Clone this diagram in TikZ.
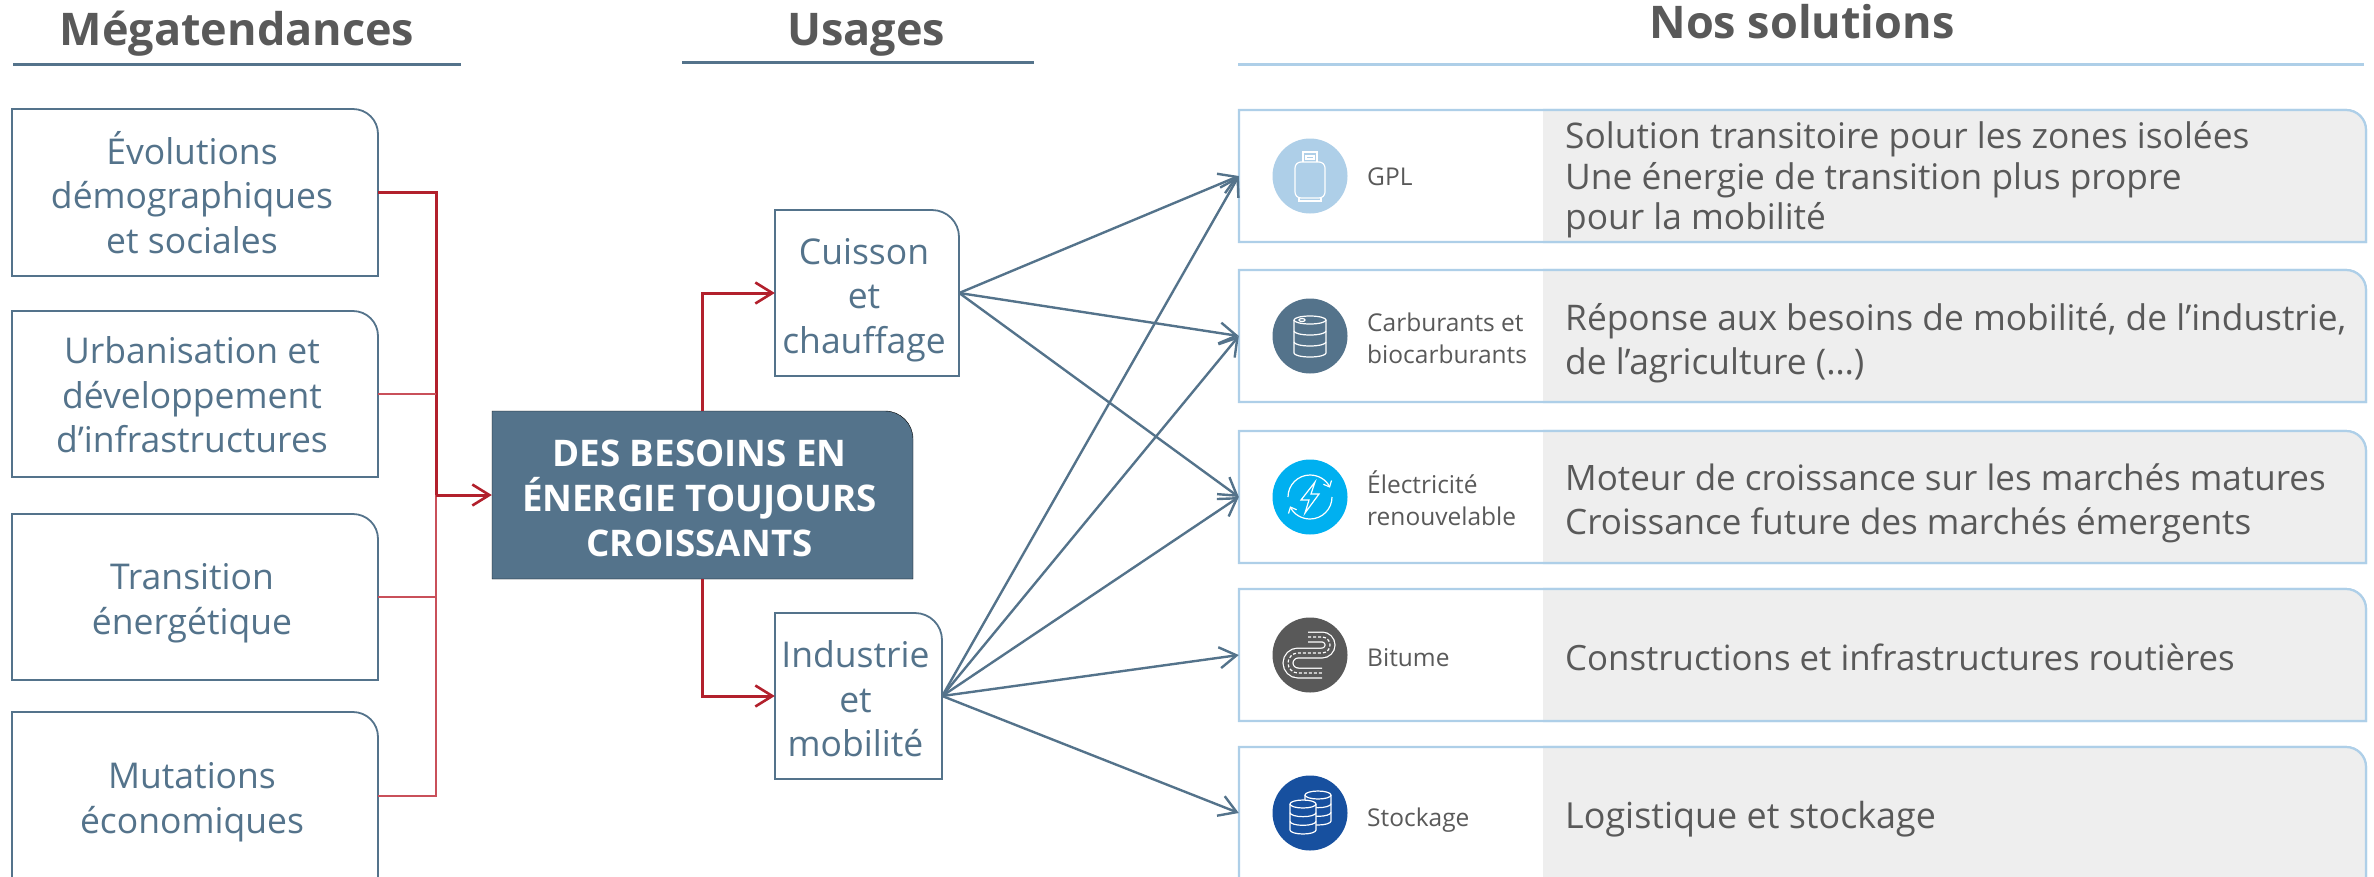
\documentclass[tikz,border=0pt]{standalone}
\usepackage{fontspec}
\setmainfont{Open Sans}
\usetikzlibrary{arrows.meta,calc}
\definecolor{steel}{HTML}{54738B}
\definecolor{sky}{HTML}{AECFE8}
\definecolor{paper}{HTML}{EEEEEE}
\definecolor{ink}{HTML}{595959}
\definecolor{crim}{HTML}{B2202C}
\definecolor{crimlt}{HTML}{C9505A}
\definecolor{ciel}{HTML}{00B0F0}
\definecolor{roi}{HTML}{17509F}
\newcommand{\fs}[2]{\fontsize{#1pt}{#2pt}\selectfont}
% name x1 y1 x2 y2 drawstyle radius textstyle text-dy ; text in \tabtext
\newcommand{\tabbox}[9]{%
  \draw[#6] (#2,#3) [rounded corners=#7pt] -- (#4,#3) [sharp corners] -- (#4,#5) -- (#2,#5) -- cycle;
  \node[inner sep=0,minimum width={(#4-#2)*1pt},minimum height={(#5-#3)*1pt}] (#1) at ({(#2+#4)/2},{(#3+#5)/2}) {};
  \node[#8] (#1t) at ({(#2+#4)/2-3},{(#3+#5)/2+#9}) {\tabtext};
}
% solution row: name y1 y2 ; icon colour ; label dy ; text dy ; (label in \rowlabel, text in \rowtext)
\newcommand{\solrow}[6]{%
  \draw[rowline,fill=white] (1239,#2) [rounded corners=20pt] -- (2366,#2) [sharp corners] -- (2366,#3) -- (1239,#3) -- cycle;
  \fill[paper] (1543,#2) [rounded corners=20pt] -- (2366,#2) [sharp corners] -- (2366,#3) -- (1543,#3) -- cycle;
  \draw[rowline] (1543,#2) [rounded corners=20pt] -- (2366,#2) [sharp corners] -- (2366,#3) -- (1543,#3);
  \node[inner sep=0,minimum width=1127pt,minimum height={(#3-#2)*1pt}] (#1) at (1802.5,{(#2+#3)/2}) {};
  \node[iconball,fill=#4] (#1i) at (1310,{(#2+#3)/2}) {};
  \node[sollabel] (#1l) at (1367,{(#2+#3)/2+#5}) {\rowlabel};
  \node[soltext] (#1t) at (1565,{(#2+#3)/2+#6}) {\rowtext};
}
\newcommand{\cyl}[5]{% x centre, ytop, ybottom, rx, fill
  \draw[iconline,fill=#5] (#1-#4,#2) -- (#1-#4,#3) arc[start angle=180,end angle=360,x radius=#4,y radius=4] -- (#1+#4,#2);
  \draw[iconline,fill=#5] (#1,#2) ellipse[x radius=#4,y radius=4];
  \draw[iconline] (#1-#4,{#2+(#3-#2)/3}) arc[start angle=180,end angle=360,x radius=#4,y radius=4];
  \draw[iconline] (#1-#4,{#2+2*(#3-#2)/3}) arc[start angle=180,end angle=360,x radius=#4,y radius=4];
}
\tikzset{
  x=1pt,y=-1pt,
  boxlabel/.style={inner sep=0,align=center,text=steel,font=\fs{35.5}{44.5}},
  centrelabel/.style={inner sep=0,align=center,text=white,font=\fs{36.7}{45}\bfseries},
  tabline/.style={draw=steel,line width=1.8pt,fill=white},
  rowline/.style={draw=sky,line width=2.2pt},
  iconball/.style={circle,inner sep=0,minimum size=75pt},
  iconline/.style={draw=white,line width=1.2pt},
  sollabel/.style={anchor=west,inner sep=0,align=left,text=ink,font=\fs{24.5}{32}},
  soltext/.style={anchor=west,inner sep=0,align=left,text=ink,font=\fs{\rowsize}{\rowskip}},
  head/.style={inner sep=0,text=ink,font=\fs{45}{50}\bfseries,anchor=base},
  hrule/.style={line width=3pt},
  bluearrow/.style={draw=steel,line width=2.4pt,-{Straight Barb[length=17pt,width=21pt,line width=2.4pt]}},
  redthick/.style={draw=crim,line width=3pt},
  redthin/.style={draw=crimlt,line width=1.6pt},
  redarrow/.style={draw=crim,line width=3pt,-{Straight Barb[length=17pt,width=21pt,line width=2.6pt]}},
}
\begin{document}
\begin{tikzpicture}
\useasboundingbox (0,0) rectangle (2374,876);
\clip (0,0) rectangle (2374,876);
% headings
\node[head] (h1) at (237,45) {Mégatendances};
\node[head] (h2) at (866,45) {Usages};
\node[head] (h3) at (1802,38) {Nos solutions};
\coordinate (r1a) at (13,64); \coordinate (r1b) at (461,64);
\coordinate (r2a) at (682,62); \coordinate (r2b) at (1034,62);
\coordinate (r3a) at (1238,64); \coordinate (r3b) at (2364,64);
\draw[hrule,steel] (r1a) -- (r1b);
\draw[hrule,steel] (r2a) -- (r2b);
\draw[hrule,sky] (r3a) -- (r3b);
% left boxes
\def\tabtext{Évolutions\\démographiques\\et sociales}
\tabbox{m1}{12}{109}{378}{276}{tabline}{25}{boxlabel}{0}
\def\tabtext{Urbanisation et\\développement\\d’infrastructures}
\tabbox{m2}{12}{311}{378}{477}{tabline}{25}{boxlabel}{1}
\def\tabtext{Transition\\énergétique}
\tabbox{m3}{12}{514}{378}{680}{tabline}{25}{boxlabel}{6}
\def\tabtext{Mutations\\économiques}
\tabbox{m4}{12}{712}{378}{880}{tabline}{25}{boxlabel}{6}
% usages
\def\tabtext{Cuisson\\et\\chauffage}
\tabbox{u1}{775}{210}{959}{376}{tabline}{27}{boxlabel}{7}
\def\tabtext{Industrie\\et\\mobilité}
\tabbox{u2}{775}{613}{942}{779}{tabline}{27}{boxlabel}{3}
% centre
\def\tabtext{DES BESOINS EN\\ÉNERGIE TOUJOURS\\CROISSANTS}
\tabbox{c}{492}{411}{913}{579}{fill=steel}{28}{centrelabel}{3}
% solutions
\def\rowlabel{GPL}\def\rowsize{35.3}\def\rowskip{40.5}
\def\rowtext{Solution transitoire pour les zones isolées\\Une énergie de transition plus propre\\pour la mobilité}
\solrow{s1}{110}{242}{sky}{1}{4}
\def\rowlabel{Carburants et\\biocarburants}\def\rowsize{35.3}\def\rowskip{44}
\def\rowtext{Réponse aux besoins de mobilité, de l’industrie,\\de l’agriculture (…)}
\solrow{s2}{270}{402}{steel}{2}{7}
\def\rowlabel{Électricité\\renouvelable}\def\rowsize{35}\def\rowskip{44}
\def\rowtext{Moteur de croissance sur les marchés matures\\Croissance future des marchés émergents}
\solrow{s3}{431}{563}{ciel}{1}{6}
\def\rowlabel{Bitume}\def\rowsize{34.8}\def\rowskip{44}
\def\rowtext{Constructions et infrastructures routières}
\solrow{s4}{589}{721}{ink}{3}{2}
\def\rowlabel{Stockage}\def\rowsize{35.9}\def\rowskip{44}
\def\rowtext{Logistique et stockage}
\solrow{s5}{747}{879}{roi}{7}{6}
% red connectors
\coordinate (bus) at (436,495);
\draw[redthick] (m1.east) -| (bus);
\draw[redthin] (m2.east) -- (m2.east -| bus);
\draw[redthin] (m3.east) -- (m3.east -| bus);
\draw[redthin] (m4.east) -| (bus);
\draw[redarrow] (bus) -- (c.west);
\coordinate (ct) at (702,411);
\coordinate (cb) at (702,579);
\draw[redarrow] (ct) |- (u1.west);
\draw[redarrow] (cb) |- (u2.west);
% blue connectors
\foreach \t in {s1,s2,s3}{\draw[bluearrow] (u1.east) -- (\t.west);}
\foreach \t in {s1,s2,s3,s4,s5}{\draw[bluearrow] (u2.east) -- (\t.west);}
% icons
\begin{scope}[shift={(s1i.center)},x=1pt,y=1pt]
  \draw[iconline,rounded corners=6pt] (-15,-22) rectangle (15,14);
  \draw[iconline] (-7,14) -- (-7,24) -- (7,24) -- (7,14);
  \draw[iconline] (-4,17) rectangle (4,20);
  \draw[iconline] (-11,-22) -- (-11,-25) -- (11,-25) -- (11,-22);
\end{scope}
\begin{scope}[shift={(s2i.center)},x=1pt,y=1pt]
  \cyl{0}{16}{-17}{16}{steel}
  \draw[iconline] (-8,16) ellipse[x radius=3,y radius=1.5];
\end{scope}
\begin{scope}[shift={(s3i.center)},x=1pt,y=1pt]
  \draw[iconline,-{Straight Barb[length=5pt,width=9pt]}] (-22,0) arc[start angle=180,end angle=25,radius=22];
  \draw[iconline,-{Straight Barb[length=5pt,width=9pt]}] (22,0) arc[start angle=0,end angle=-155,radius=22];
  \draw[iconline] (5,15) -- (-9,-3) -- (-1,-3) -- (-5,-16) -- (9,3) -- (1,3) -- cycle;
\end{scope}
\begin{scope}[shift={(s4i.center)},x=1pt,y=1pt]
  \def\roadpath{(-2,18) -- (12,18) arc[start angle=90,end angle=-90,radius=8] -- (-12,2) arc[start angle=90,end angle=270,radius=10] -- (12,-18)}
  \draw[white,line width=11pt] \roadpath;
  \draw[ink,line width=8.5pt] (-3,18) -- (12,18) arc[start angle=90,end angle=-90,radius=8] -- (-12,2) arc[start angle=90,end angle=270,radius=10] -- (13,-18);
  \draw[white,line width=1.2pt,dash pattern=on 3pt off 2pt] \roadpath;
\end{scope}
\begin{scope}[shift={(s5i.center)},x=1pt,y=1pt]
  \cyl{8}{18}{-8}{13}{roi}
  \cyl{-7}{9}{-17}{13}{roi}
\end{scope}
\end{tikzpicture}
\end{document}
